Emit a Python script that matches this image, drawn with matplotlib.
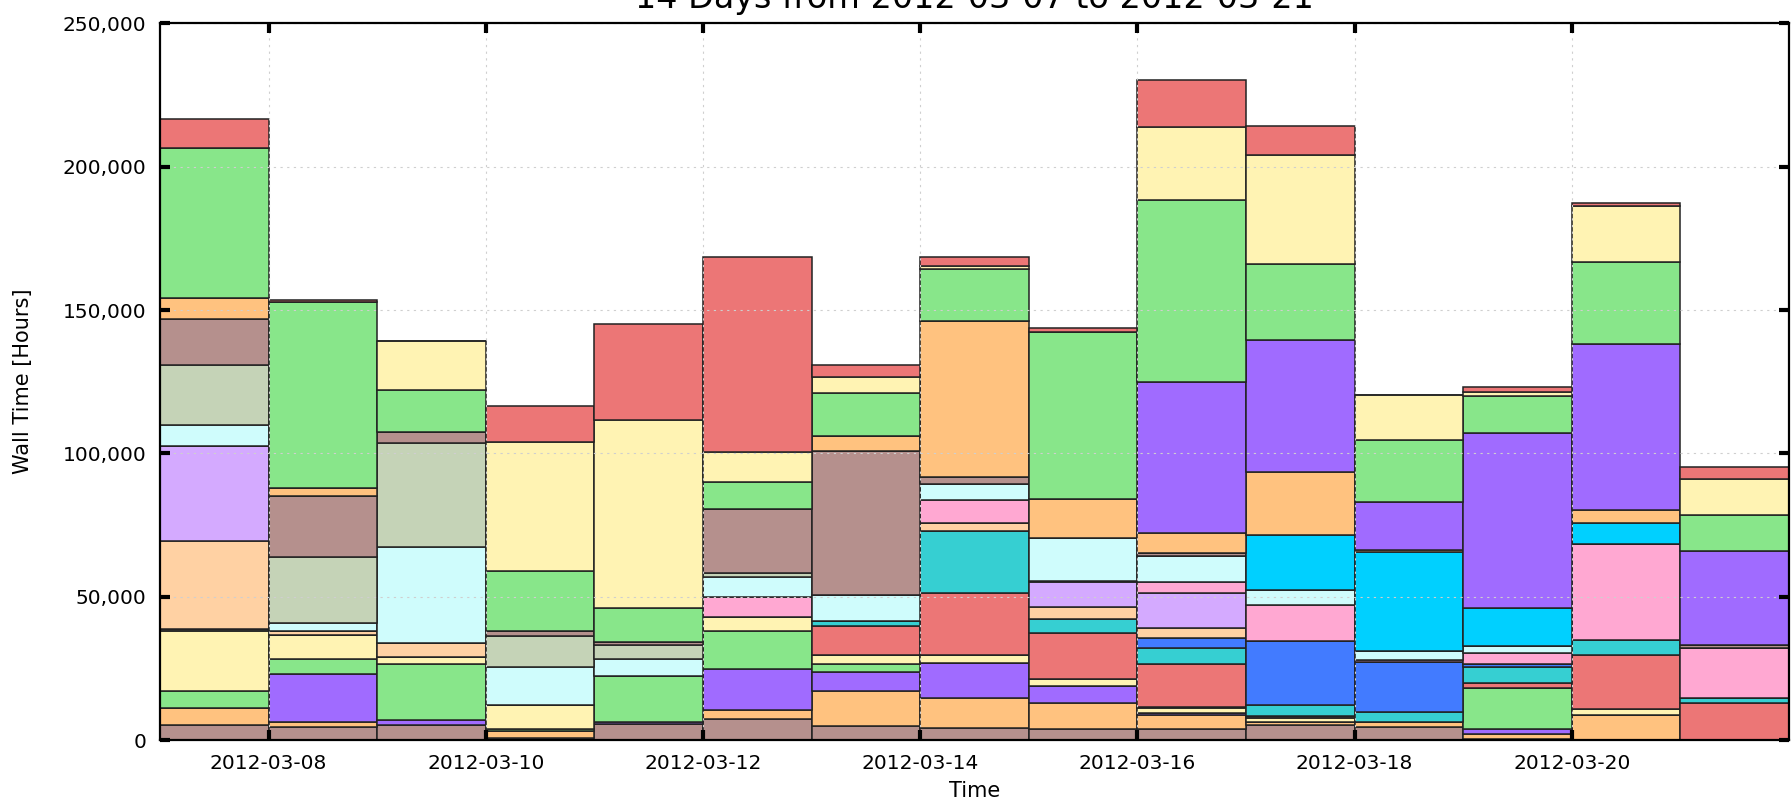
import datetime as dt
import numpy as np
import matplotlib
matplotlib.use("Agg")
import matplotlib.pyplot as plt
import matplotlib.dates as mdates
from matplotlib.ticker import FuncFormatter

# --- data: wall hours per day, stacked bottom -> top ---
days = [dt.datetime(2012, 3, 7) + dt.timedelta(days=i) for i in range(15)]

vo_brown = [5200, 4700, 5200, 800, 5600, 7200, 4900, 4100, 3700, 3700, 5200, 4400, 500, 0, 0]
vo_orange = [6100, 1700, 0, 2400, 0, 3300, 12300, 10400, 9300, 5000, 1200, 1800, 1500, 8700, 0]
vo_purple_a = [0, 16600, 1800, 0, 700, 14200, 6600, 12500, 5800, 800, 0, 0, 1700, 0, 0]
vo_green = [5900, 5100, 19400, 500, 16000, 13300, 2600, 0, 0, 0, 0, 0, 14300, 0, 0]
vo_yellow = [20800, 8500, 2700, 8500, 0, 5000, 3300, 2700, 2400, 1500, 1200, 0, 0, 2000, 0]
vo_dark = [800, 0, 0, 0, 0, 0, 0, 0, 0, 600, 900, 0, 0, 0, 0]
vo_red = [0, 0, 0, 0, 0, 0, 10100, 21700, 16000, 14800, 0, 0, 1800, 19000, 13000]
vo_teal = [0, 0, 0, 0, 0, 0, 1800, 21600, 5000, 5800, 3700, 3700, 5800, 5200, 1800]
vo_blue = [0, 0, 0, 0, 0, 0, 0, 0, 0, 3500, 22500, 17400, 1000, 0, 0]
vo_peach = [30700, 1400, 4900, 0, 0, 0, 0, 2600, 4100, 3300, 0, 0, 0, 0, 0]
vo_lavender = [32900, 0, 0, 0, 0, 0, 0, 0, 8700, 12400, 0, 0, 0, 0, 0]
vo_pink = [0, 0, 0, 0, 0, 6800, 0, 8000, 600, 3600, 12400, 600, 3800, 33400, 17400]
vo_lightcyan = [7500, 2700, 33500, 13400, 5900, 7000, 9000, 5700, 14900, 9200, 5200, 3300, 2300, 0, 0]
vo_greygreen = [21100, 23000, 36000, 10700, 4900, 1400, 0, 0, 0, 0, 0, 0, 0, 0, 0]
vo_brown_b = [16000, 21300, 3900, 1800, 1100, 22500, 50300, 2500, 0, 900, 0, 0, 0, 0, 800]
vo_cyan = [0, 0, 0, 0, 0, 0, 0, 0, 0, 0, 19200, 34300, 13500, 7500, 0]
vo_orange_b = [7300, 3000, 0, 0, 0, 0, 5000, 54300, 13600, 7200, 22000, 700, 0, 4300, 0]
vo_purple_b = [0, 0, 0, 0, 0, 0, 0, 0, 0, 52600, 46200, 16800, 61000, 58200, 33000]
vo_green_b = [52300, 64700, 14800, 20800, 11800, 9400, 15100, 18200, 58200, 63400, 26500, 21500, 12800, 28600, 12600]
vo_yellow_b = [0, 0, 17000, 45000, 65500, 10300, 5800, 1000, 0, 25700, 37800, 15800, 1500, 19400, 12600]
vo_red_b = [10200, 900, 0, 12700, 33600, 68200, 4200, 3300, 1600, 16300, 10300, 0, 1700, 1000, 4000]

series = [vo_brown, vo_orange, vo_purple_a, vo_green, vo_yellow, vo_dark, vo_red,
          vo_teal, vo_blue, vo_peach, vo_lavender, vo_pink, vo_lightcyan,
          vo_greygreen, vo_brown_b, vo_cyan, vo_orange_b, vo_purple_b,
          vo_green_b, vo_yellow_b, vo_red_b]
colors = ['#b5908d', '#ffc27f', '#a06bff', '#88e68a', '#fff3b3', '#4a4a4a', '#ec7676',
          '#36cfd2', '#427bff', '#ffd1a3', '#d4aaff', '#ffa8d2', '#cffcfc',
          '#c5d3b7', '#b5908d', '#00d0ff', '#ffc27f', '#a06bff',
          '#88e68a', '#fff3b3', '#ec7676']

plt.rcParams['font.family'] = ['DejaVu Sans']

fig = plt.figure(figsize=(17.92, 8.07), dpi=100)
ax = fig.add_axes([0.0893, 0.083, 0.909, 0.888])

x = mdates.date2num(days)
bottom = np.zeros(len(days))
for vals, col in zip(series, colors):
    vals = np.array(vals, dtype=float)
    ax.bar(x, vals, width=1.0, bottom=bottom, align='edge', color=col,
           edgecolor='#222222', linewidth=1.1)
    bottom += vals

ax.set_xlim(mdates.date2num(dt.datetime(2012, 3, 7)), mdates.date2num(dt.datetime(2012, 3, 22)))
ax.set_ylim(0, 250000)
ax.set_xticks(x[1::2])
ax.xaxis.set_major_formatter(mdates.DateFormatter('%Y-%m-%d'))
ax.set_yticks(np.arange(0, 250001, 50000))
ax.yaxis.set_major_formatter(FuncFormatter(lambda v, p: f'{int(v):,}'))

ax.tick_params(direction='in', length=7, width=3, top=True, right=True,
               labelsize=14.5, pad=10)
for s in ax.spines.values():
    s.set_linewidth(1.6)
    s.set_zorder(4)

ax.set_axisbelow(False)
ax.grid(True, color='#cfcfcf', linestyle=(0, (2, 4)), linewidth=0.8)

ax.set_xlabel('Time', fontsize=15)
ax.set_ylabel('Wall Time [Hours]', fontsize=15)
ax.xaxis.set_label_coords(0.5, -0.057)
ax.yaxis.set_label_coords(-0.078, 0.5)

# title sits partly above the figure edge, as in the source image
fig.text(0.0893 + 0.909 / 2, 1 - 8 / 807, '14 Days from 2012-03-07 to 2012-03-21',
         ha='center', va='baseline', fontsize=24)

fig.savefig('out.png', dpi=100)
